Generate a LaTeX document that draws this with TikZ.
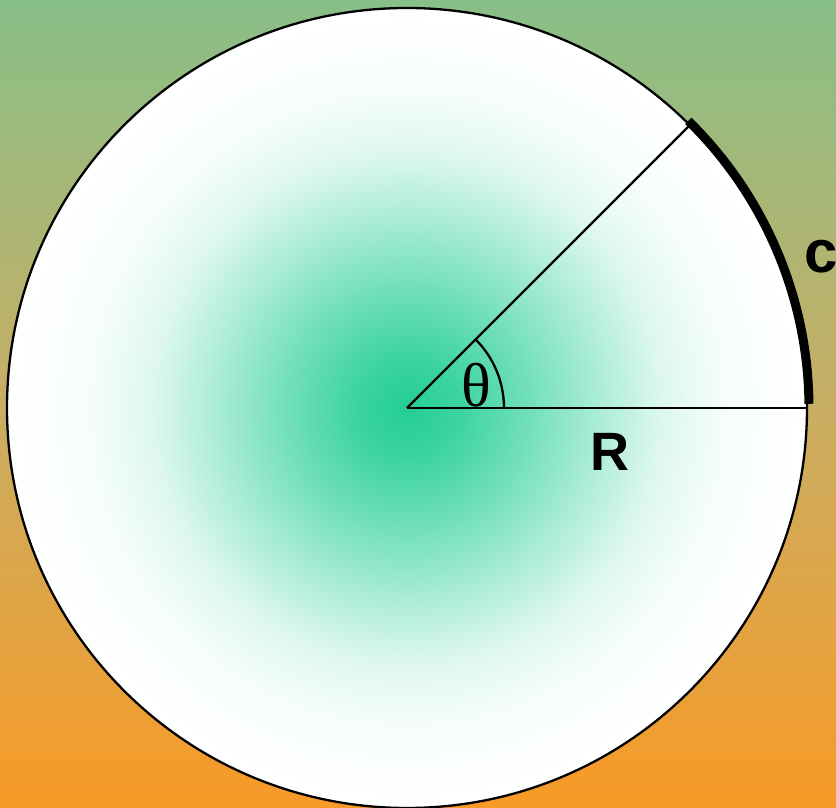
\documentclass[tikz,border=0pt]{standalone}
\usepackage{fontspec}
\setmainfont{Liberation Sans}
\newfontfamily\thetafont{Liberation Serif}
\usetikzlibrary{calc}
\definecolor{bgtop}{RGB}{136,191,136}
\definecolor{bgmid}{RGB}{200,174,100}
\definecolor{bgbot}{RGB}{248,154,38}
\definecolor{cgreen}{RGB}{36,206,148}
\pgfdeclareradialshading{discshade}{\pgfpoint{0bp}{0bp}}{%
color(0bp)=(cgreen);
color(3bp)=(cgreen!90!white);
color(8bp)=(cgreen!62!white);
color(12bp)=(cgreen!38!white);
color(16bp)=(cgreen!15!white);
color(20bp)=(white!96!cgreen);
color(25bp)=(white);
color(50bp)=(white)}
\tikzset{
  thinline/.style={line width=2.3pt, black},
  arcline/.style={line width=9pt, black},
  biglabel/.style={font=\bfseries\fontsize{54}{60}\selectfont, inner sep=0pt},
}
\begin{document}
\begin{tikzpicture}[x=1pt,y=1pt]
\useasboundingbox (0,0) rectangle (836,808);
\shade[top color=bgtop, bottom color=bgbot, middle color=bgmid] (0,0) rectangle (836,808);
\coordinate (O) at (407,400);
\coordinate (A) at ($(O)+(0:400)$);
\coordinate (B) at ($(O)+(45:400)$);
\shade[shading=discshade] (O) circle (400);
\draw[thinline] (O) circle (400);
\draw[thinline] (O) -- (A);
\draw[thinline] (O) -- (B);
\draw[thinline] ($(O)+(97,0)$) arc (0:45:97);
\draw[arcline] ($(O)+(0.6:402)$) arc (0.6:45.6:402);
\node[inner sep=0pt, font=\thetafont\fontsize{62}{66}\selectfont] (th) at (476,423) {θ};
\node[biglabel] (R) at (610,356) {R};
\node[biglabel, anchor=west, font=\bfseries\fontsize{60}{66}\selectfont] (c) at (804,551) {c};
\end{tikzpicture}
\end{document}
